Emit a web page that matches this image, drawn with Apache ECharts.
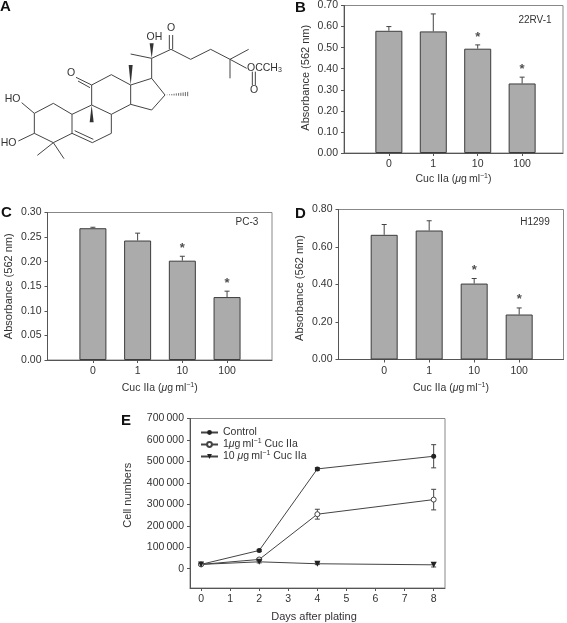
<!DOCTYPE html>
<html>
<head>
<meta charset="utf-8">
<title>Cuc IIa</title>
<script src="https://cdn.jsdelivr.net/npm/echarts@6/dist/echarts.min.js"></script>
<style>
html, body { margin: 0; padding: 0; background: #fff; }
#chart { width: 567px; height: 623px; }
</style>
</head>
<body>
<div id="chart"></div>
<script>
// bar panels
const doses = ['0', '1', '10', '100'];

const valuesB = [0.58, 0.577, 0.495, 0.33];
const errTopB = [0.60, 0.66, 0.513, 0.36];
const starsB = [null, null, 0.558, 0.406];
const ticksB = [0, 0.1, 0.2, 0.3, 0.4, 0.5, 0.6, 0.7];

const valuesC = [0.268, 0.243, 0.202, 0.128];
const errTopC = [0.270, 0.258, 0.211, 0.140];
const starsC = [null, null, 0.232, 0.160];
const ticksC = [0, 0.05, 0.1, 0.15, 0.2, 0.25, 0.3];

const valuesD = [0.665, 0.688, 0.405, 0.24];
const errTopD = [0.72, 0.74, 0.432, 0.275];
const starsD = [null, null, 0.485, 0.333];
const ticksD = [0, 0.2, 0.4, 0.6, 0.8];

// panel E
const days = [0, 2, 4, 8];
const dayTicks = [0, 1, 2, 3, 4, 5, 6, 7, 8];
const cellTicks = [0, 100000, 200000, 300000, 400000, 500000, 600000, 700000];
const control = [20000, 85000, 465000, 524000];
const controlErr = [3000, 5000, 6000, 54000];
const low = [20000, 43000, 254000, 322000];
const lowErr = [3000, 5000, 23000, 48000];
const high = [20000, 32000, 23000, 18000];
const highErr = [3000, 5000, 4000, 10000];

const FONT = '"Liberation Sans", Arial, sans-serif';
const INK = '#333';
const AXIS = '#555';
const richText = {
  n: { fontFamily: FONT, fontSize: 10.5, color: INK, lineHeight: 13 },
  i: { fontFamily: FONT, fontStyle: 'italic', fontSize: 10.5, color: INK, lineHeight: 13 },
  sup: { fontFamily: FONT, fontSize: 7, color: INK, lineHeight: 13, verticalAlign: 'top' }
};

const grids = [];
const xAxes = [];
const yAxes = [];
const series = [];

function errorBars(idx, rows, capBottom) {
  return {
    type: 'custom',
    xAxisIndex: idx,
    yAxisIndex: idx,
    silent: true,
    z: 1,
    data: rows,
    renderItem(params, api) {
      const top = api.coord([api.value(0), api.value(1)]);
      const bottom = api.coord([api.value(0), api.value(2)]);
      const style = { stroke: '#444', lineWidth: 1, fill: null };
      const kids = [
        { type: 'line', shape: { x1: top[0], y1: top[1], x2: bottom[0], y2: bottom[1] }, style },
        { type: 'line', shape: { x1: top[0] - 2.5, y1: top[1], x2: top[0] + 2.5, y2: top[1] }, style }
      ];
      if (capBottom) {
        kids.push({ type: 'line', shape: { x1: bottom[0] - 2.5, y1: bottom[1], x2: bottom[0] + 2.5, y2: bottom[1] }, style });
      }
      return { type: 'group', children: kids };
    }
  };
}

function addBarPanel(box, xRange, yMax, ticks, values, errTop, stars, xNameGap, yNamePad) {
  const idx = grids.length;
  grids.push({ left: box[0], top: box[1], width: box[2] - box[0], height: box[3] - box[1], show: true, borderColor: '#888', borderWidth: 1, backgroundColor: 'transparent' });
  xAxes.push({
    type: 'value', gridIndex: idx, min: xRange[0], max: xRange[1],
    splitLine: { show: false },
    axisLine: { onZero: false, lineStyle: { color: AXIS } },
    axisTick: { show: true, length: 3, customValues: [0, 1, 2, 3], lineStyle: { color: AXIS } },
    axisLabel: { customValues: [0, 1, 2, 3], formatter: v => doses[v], fontFamily: FONT, fontSize: 10.5, color: INK, margin: 6 },
    name: '{n|Cuc IIa (}{i|\u03bc}{n|g\u2009ml}{sup|\u22121}{n|)}',
    nameLocation: 'middle', nameGap: xNameGap,
    nameTextStyle: { rich: richText }
  });
  yAxes.push({
    type: 'value', gridIndex: idx, min: 0, max: yMax,
    splitLine: { show: false },
    axisLine: { show: true, onZero: false, lineStyle: { color: AXIS } },
    axisTick: { show: true, length: 3, customValues: ticks, lineStyle: { color: AXIS } },
    axisLabel: { customValues: ticks, formatter: v => v.toFixed(2), fontFamily: FONT, fontSize: 10.5, color: INK, margin: 6 },
    name: 'Absorbance (562 nm)', nameLocation: 'middle', nameGap: 33,
    nameTextStyle: { fontFamily: FONT, fontSize: 11, color: INK, padding: yNamePad }
  });
  series.push(errorBars(idx, values.map((v, i) => [i, errTop[i], v]), false));
  series.push({
    type: 'bar', xAxisIndex: idx, yAxisIndex: idx, barWidth: 27, z: 2, silent: true,
    itemStyle: { color: '#ababab', borderColor: '#3c3c3c', borderWidth: 1 },
    data: values.map((v, i) => [i, v])
  });
  series.push({
    type: 'scatter', xAxisIndex: idx, yAxisIndex: idx, symbolSize: 0, silent: true, z: 3,
    data: stars.map((v, i) => [i, v]).filter(d => d[1] !== null),
    label: { show: true, position: 'inside', formatter: '*', fontFamily: FONT, fontSize: 13, fontWeight: 'bold', color: '#222', offset: [0, 2] }
  });
}

addBarPanel([344, 5, 563, 153], [-1.01, 3.92], 0.7, ticksB, valuesB, errTopB, starsB, 20, [0, 0, 0, 3]);
addBarPanel([47.5, 212.5, 272, 360], [-1.015, 4.005], 0.3, ticksC, valuesC, errTopC, starsC, 22, 0);
addBarPanel([338.5, 209.5, 563.5, 359.5], [-1.015, 3.985], 0.8, ticksD, valuesD, errTopD, starsD, 22.5, [0, 7, 0, 0]);

// panel E
const lineStyle = { color: '#444', width: 1 };
grids.push({ left: 190, top: 418.5, width: 255, height: 171, show: true, borderColor: '#888', borderWidth: 1, backgroundColor: 'transparent' });
xAxes.push({
  type: 'value', gridIndex: 3, min: -0.38, max: 8.39,
  splitLine: { show: false },
  axisLine: { onZero: false, lineStyle: { color: AXIS } },
  axisTick: { show: true, length: 3, customValues: dayTicks, lineStyle: { color: AXIS } },
  axisLabel: { customValues: dayTicks, fontFamily: FONT, fontSize: 10.5, color: INK, margin: 6 },
  name: 'Days after plating', nameLocation: 'middle', nameGap: 23,
  nameTextStyle: { fontFamily: FONT, fontSize: 11, color: INK, padding: [0, 7, 0, 0] }
});
yAxes.push({
  type: 'value', gridIndex: 3, min: -90000, max: 700000,
  splitLine: { show: false },
  axisLine: { show: true, onZero: false, lineStyle: { color: AXIS } },
  axisTick: { show: true, length: 3, customValues: cellTicks, lineStyle: { color: AXIS } },
  axisLabel: { customValues: cellTicks, formatter: v => String(v).replace(/(\d{3})$/, '\u2009$1').replace(/^\u2009/, ''), fontFamily: FONT, fontSize: 10.5, color: INK, margin: 6 },
  name: 'Cell numbers', nameLocation: 'middle', nameGap: 57,
  nameTextStyle: { fontFamily: FONT, fontSize: 11, color: INK, padding: [0, 0, 0, 16] }
});

function errRows(vals, errs) {
  return days.map((d, i) => [d, vals[i] + errs[i], vals[i] - errs[i]]);
}
series.push(errorBars(3, errRows(control, controlErr), true));
series.push(errorBars(3, errRows(low, lowErr), true));
series.push(errorBars(3, errRows(high, highErr), true));
series.push({
  name: 'Control', type: 'line', xAxisIndex: 3, yAxisIndex: 3, silent: true, z: 3,
  symbol: 'circle', symbolSize: 5, lineStyle, itemStyle: { color: '#222' },
  data: days.map((d, i) => [d, control[i]])
});
series.push({
  name: '1 ug', type: 'line', xAxisIndex: 3, yAxisIndex: 3, silent: true, z: 3,
  symbol: 'circle', symbolSize: 5, lineStyle, itemStyle: { color: '#fff', borderColor: '#444', borderWidth: 1 },
  data: days.map((d, i) => [d, low[i]])
});
series.push({
  name: '10 ug', type: 'line', xAxisIndex: 3, yAxisIndex: 3, silent: true, z: 3,
  symbol: 'triangle', symbolRotate: 180, symbolSize: 6, lineStyle, itemStyle: { color: '#222' },
  data: days.map((d, i) => [d, high[i]])
});

const legendNames = {
  'Control': '{n|Control}',
  '1 ug': '{n|1}{i|\u03bc}{n|g\u2009ml}{sup|\u22121}{n| Cuc IIa}',
  '10 ug': '{n|10 }{i|\u03bc}{n|g\u2009ml}{sup|\u22121}{n| Cuc IIa}'
};

// panel A, structure drawing, in zoomed picture units (1/3 px)
const bonds = [
  [103,340,160,310],[160,310,216,343],[216,343,216,400],[216,400,160,428],[160,428,103,400],[103,400,103,340],
  [103,340,65,308],[103,400,55,423],[160,428,112,466],[160,428,192,476],
  [216,400,277,428],[224,392,280,418],[277,428,334,400],[334,400,334,343],[334,343,275,315],[216,343,275,315],
  [275,315,275,255],[275,255,228,232],[270,263,234,243],[275,255,334,224],[334,224,392,255],[392,255,392,313],[392,313,334,343],
  [392,255,455,235],[455,235,495,285],[495,285,455,330],[455,330,392,313],
  [455,235,455,175],[455,175,392,162],[455,175,513,148],[508,148,508,105],[518,148,518,105],
  [513,148,572,178],[572,178,632,148],[632,148,690,178],[690,178,746,148],[690,178,690,235],[690,178,740,205],
  [757,215,757,255],[766,215,766,255]
];
const wedges = [
  [275,315,275,367],[392,255,392,195],[455,175,455,130]
];
const hashBond = [495, 285, 563, 282];
const atomLabels = [
  ['HO', 38, 296], ['HO', 26, 428], ['O', 213, 219], ['OH', 463, 112], ['O', 513, 85], ['O', 762, 270]
];

const molecule = [];
bonds.forEach(b => molecule.push({
  type: 'line', shape: { x1: b[0] / 3, y1: b[1] / 3, x2: b[2] / 3, y2: b[3] / 3 },
  style: { stroke: '#444', lineWidth: 1 }
}));
wedges.forEach(w => molecule.push({
  type: 'polygon', shape: { points: [[w[0] / 3, w[1] / 3], [w[2] / 3 - 2, w[3] / 3], [w[2] / 3 + 2, w[3] / 3]] },
  style: { fill: '#333' }
}));
for (let k = 0; k < 10; k++) {
  const t = (k + 1) / 10;
  const x = (hashBond[0] + (hashBond[2] - hashBond[0]) * t) / 3;
  const y = (hashBond[1] + (hashBond[3] - hashBond[1]) * t) / 3;
  molecule.push({ type: 'line', shape: { x1: x, y1: y - 2.2 * t, x2: x, y2: y + 2.2 * t }, style: { stroke: '#444', lineWidth: 0.8 } });
}
atomLabels.forEach(a => molecule.push({
  type: 'text', x: a[1] / 3, y: a[2] / 3,
  style: { text: a[0], fontFamily: FONT, fontSize: 10.5, fill: INK, textAlign: 'center', textVerticalAlign: 'middle' }
}));
molecule.push({
  type: 'text', x: 741 / 3, y: 204 / 3,
  style: {
    text: '{n|OCCH}{s|3}', fontFamily: FONT, textVerticalAlign: 'middle', textAlign: 'left',
    rich: { n: { fontFamily: FONT, fontSize: 10.5, fill: INK }, s: { fontFamily: FONT, fontSize: 7, fill: INK, padding: [5, 0, 0, 0] } }
  }
});

function plainText(text, x, y, size, weight, align) {
  return {
    type: 'text', x, y,
    style: { text, fontFamily: FONT, fontSize: size, fontWeight: weight || 'normal', fill: weight ? '#111' : INK, textAlign: align || 'center', textVerticalAlign: 'middle' }
  };
}

const option = {
  animation: false,
  backgroundColor: '#fff',
  grid: grids,
  xAxis: xAxes,
  yAxis: yAxes,
  series,
  legend: {
    orient: 'vertical', left: 200, top: 427, padding: 0,
    itemWidth: 17, itemHeight: 6, itemGap: 0,
    data: ['Control', '1 ug', '10 ug'],
    formatter: n => legendNames[n],
    textStyle: { fontFamily: FONT, fontSize: 10.5, color: INK, rich: richText }
  },
  graphic: [
    { type: 'group', x: 0, y: 0, silent: true, children: molecule },
    plainText('A', 0, 7, 15, 'bold', 'left'),
    plainText('B', 295, 8, 15, 'bold', 'left'),
    plainText('C', 1, 213, 15, 'bold', 'left'),
    plainText('D', 295, 214, 15, 'bold', 'left'),
    plainText('E', 121, 421, 15, 'bold', 'left'),
    plainText('22RV-1', 535, 20, 10),
    plainText('PC-3', 247, 222, 10),
    plainText('H1299', 535, 222, 10)
  ]
};

const myChart = echarts.init(document.getElementById('chart'), null, { renderer: 'canvas' });
myChart.setOption(option);
</script>
</body>
</html>
